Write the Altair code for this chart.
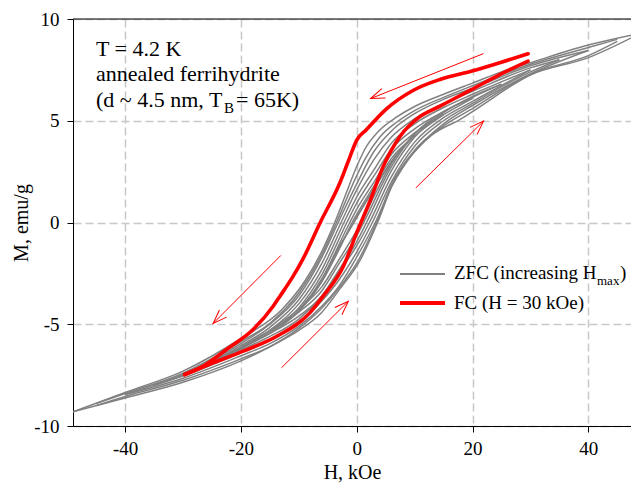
import math
import altair as alt
import pandas as pd

# ---------------- data ----------------
# ZFC loops (gray), each branch as (H [kOe], M [emu/g]) points
zfc49_down = [(49, 9.3), (40, 8.72), (30, 7.85), (25, 7.4), (20, 6.85), (15, 6.3), (10, 5.7), (7, 5.2), (4, 4.55),
              (1.4, 3.6), (0, 2.75), (-2, 1.3), (-3.8, 0), (-6, -1.4), (-9, -2.9), (-13, -4.3), (-20, -5.7),
              (-30, -7.3), (-40, -8.35), (-49, -9.3)]
zfc49_up = [(-49, -9.3), (-40, -8.62), (-30, -7.85), (-20, -6.8), (-13, -5.8), (-10, -5.3), (-6.3, -4.5), (-3, -3.3),
            (0.5, -1.9), (3.6, 0), (6.3, 1.95), (10.4, 3.6), (13, 4.3), (17.8, 5.06), (20, 5.45), (30, 7.25),
            (40, 8.1), (49, 9.3)]
zfc45_down = [(45, 9.0), (40, 8.6), (30, 7.78), (20, 6.72), (15, 6.15), (10, 5.5), (7, 4.95), (4, 4.2), (1.4, 3.1),
              (0, 2.3), (-3.5, 0), (-6, -1.55), (-10, -3.45), (-15, -4.95), (-20, -5.85), (-30, -7.4), (-40, -8.4),
              (-45, -8.9)]
zfc45_up = [(-45, -9.0), (-40, -8.55), (-30, -7.75), (-20, -6.7), (-15, -6.1), (-10, -5.2), (-6, -4.2), (-3, -3.2),
            (0, -2.0), (3.4, 0), (6, 1.85), (10, 3.55), (15, 4.75), (20, 5.6), (30, 7.3), (40, 8.2), (45, 8.9)]
zfc40_down = [(40, 8.45), (30, 7.7), (20, 6.6), (15, 6.05), (10, 5.35), (6, 4.5), (3, 3.5), (0, 1.9), (-3.2, 0),
              (-6, -1.7), (-10, -3.6), (-15, -5.0), (-20, -5.95), (-30, -7.45), (-40, -8.45)]
zfc40_up = [(-40, -8.45), (-30, -7.65), (-20, -6.55), (-15, -5.95), (-10, -5.1), (-6, -4.1), (-3, -3.1), (0, -1.7),
            (3.2, 0), (6, 1.75), (10, 3.5), (15, 4.85), (20, 5.75), (30, 7.3), (40, 8.45)]
zfc35_down = [(35, 8.0), (30, 7.6), (20, 6.45), (15, 5.85), (10, 5.1), (6, 4.2), (3, 3.1), (0, 1.6), (-2.7, 0),
              (-6, -2.0), (-10, -3.8), (-15, -5.15), (-20, -6.05), (-30, -7.5), (-35, -8.0)]
zfc35_up = [(-35, -8.0), (-30, -7.55), (-20, -6.4), (-15, -5.8), (-10, -4.95), (-6, -3.85), (-3, -2.8), (0, -1.45),
            (2.7, 0), (6, 2.0), (10, 3.75), (15, 5.0), (20, 5.85), (30, 7.4), (35, 8.0)]
zfc30_down = [(30, 7.5), (20, 6.3), (15, 5.65), (10, 4.85), (6, 3.9), (3, 2.6), (0, 1.25), (-2.2, 0), (-6, -2.3),
              (-10, -4.0), (-15, -5.3), (-20, -6.15), (-30, -7.5)]
zfc30_up = [(-30, -7.5), (-20, -6.25), (-15, -5.6), (-10, -4.75), (-6, -3.6), (-3, -2.4), (0, -1.15), (2.2, 0),
            (6, 2.25), (10, 3.95), (15, 5.15), (20, 5.95), (30, 7.5)]
zfc25_down = [(25, 6.8), (20, 6.15), (15, 5.45), (10, 4.6), (6, 3.6), (3, 2.3), (0, 0.95), (-1.7, 0), (-6, -2.55),
              (-10, -4.2), (-15, -5.4), (-20, -6.2), (-25, -6.8)]
zfc25_up = [(-25, -6.8), (-20, -6.15), (-15, -5.45), (-10, -4.6), (-6, -3.6), (-3, -2.3), (0, -0.95), (1.7, 0),
            (6, 2.55), (10, 4.2), (15, 5.4), (20, 6.2), (25, 6.8)]
zfc20_down = [(20, 6.1), (15, 5.3), (10, 4.4), (6, 3.35), (3, 2.0), (0, 0.65), (-1.2, 0), (-6, -2.75), (-10, -4.35),
              (-15, -5.45), (-20, -6.1)]
zfc20_up = [(-20, -6.1), (-15, -5.3), (-10, -4.4), (-6, -3.35), (-3, -2.0), (0, -0.65), (1.2, 0), (6, 2.75),
            (10, 4.35), (15, 5.45), (20, 6.1)]
zfc15_down = [(15, 5.3), (10, 4.25), (6, 3.15), (3, 1.8), (0, 0.4), (-0.8, 0), (-3, -1.3), (-6, -2.9), (-10, -4.35),
              (-15, -5.3)]
zfc15_up = [(-15, -5.3), (-10, -4.25), (-6, -3.15), (-3, -1.8), (0, -0.4), (0.8, 0), (3, 1.3), (6, 2.9), (10, 4.35),
            (15, 5.3)]
zfc10_down = [(10, 4.3), (6, 3.0), (3, 1.65), (0, 0.25), (-0.5, 0), (-3, -1.2), (-6, -2.85), (-10, -4.3)]
zfc10_up = [(-10, -4.3), (-6, -2.85), (-3, -1.2), (-0.5, 0), (0, 0.25), (3, 1.65), (6, 3.0), (10, 4.3)]

# FC loop (red, H = 30 kOe)
fc_down = [(29.6, 8.29), (24.7, 7.85), (19.9, 7.44), (14.4, 7.03), (9.8, 6.5), (5, 5.55), (1.7, 4.57), (0, 4.05),
           (-1.2, 3.2), (-2.9, 1.95), (-6.3, 0), (-9.3, -1.8), (-11, -2.65), (-13.2, -3.6), (-14.4, -4.1),
           (-17.9, -5.26), (-22.5, -6.24), (-26.5, -7.06), (-29.7, -7.47)]
fc_up = [(-29.7, -7.47), (-24.8, -6.9), (-19.6, -6.32), (-13.8, -5.59), (-8.1, -4.44), (-5.8, -3.62), (-2.3, -2.15),
         (0, -0.5), (2.4, 1.13), (4.6, 2.77), (7.5, 4.24), (10.9, 5.2), (14.4, 5.72), (19.9, 6.54), (24.7, 7.27),
         (29.6, 7.93)]

# arrows (start -> head)
arrow_x1 = [21.9, 10.2, -13.1, -13.0]
arrow_y1 = [8.3, 1.7, -1.62, -7.14]
arrow_x2 = [2.4, 21.9, -24.8, -1.45]
arrow_y2 = [6.09, 4.98, -4.96, -3.87]

x_ticks = [-40, -20, 0, 20, 40]
y_ticks = [-10, -5, 0, 5, 10]

# ---------------- layout ----------------
W, HT = 558, 407
PX_PER_KOE = 5.79
xdom = [-49, -49 + W / PX_PER_KOE]
ydom = [-10, 10]
FONT = "'Liberation Serif', 'Times New Roman', Times, serif"

zfc_branches = {
    "49d": zfc49_down, "49u": zfc49_up, "45d": zfc45_down, "45u": zfc45_up,
    "40d": zfc40_down, "40u": zfc40_up, "35d": zfc35_down, "35u": zfc35_up,
    "30d": zfc30_down, "30u": zfc30_up, "25d": zfc25_down, "25u": zfc25_up,
    "20d": zfc20_down, "20u": zfc20_up, "15d": zfc15_down, "15u": zfc15_up,
    "10d": zfc10_down, "10u": zfc10_up,
}
gray_rows = [{"H": h, "M": m, "key": k} for k, pts in zfc_branches.items() for h, m in pts]
gray_df = pd.DataFrame(gray_rows)
red_df = pd.DataFrame([{"H": h, "M": m, "key": "d"} for h, m in fc_down] +
                      [{"H": h, "M": m, "key": "u"} for h, m in fc_up])

pxH = W / (xdom[1] - xdom[0])
pxM = HT / (ydom[1] - ydom[0])
arr_df = pd.DataFrame({"x1": arrow_x1, "y1": arrow_y1, "x2": arrow_x2, "y2": arrow_y2})
arr_df["ang"] = [
    math.degrees(math.atan2(-(b2 - b1) * pxM, (a2 - a1) * pxH)) % 360
    for a1, b1, a2, b2 in zip(arrow_x1, arrow_y1, arrow_x2, arrow_y2)
]

xscale = alt.Scale(domain=xdom, nice=False, zero=False)
yscale = alt.Scale(domain=ydom, nice=False, zero=False)

axis_common = dict(
    grid=True, gridDash=[8, 4], gridColor="#c8c8c8", gridWidth=1.5,
    domainColor="black", tickColor="black", tickSize=6,
    labelFont=FONT, labelFontSize=19, labelColor="black",
    titleFont=FONT, titleFontSize=20, titleFontWeight="normal", titleColor="black",
    labelExpr="'' + datum.value",
)
xax = alt.Axis(values=x_ticks, title="H, kOe", labelPadding=7, titlePadding=4, **axis_common)
yax = alt.Axis(values=y_ticks, title="M, emu/g", labelPadding=8, titlePadding=2, **axis_common)

base_x = alt.X("H:Q", scale=xscale, axis=xax)
base_y = alt.Y("M:Q", scale=yscale, axis=yax)

gray = alt.Chart(gray_df).mark_line(color="#808080", strokeWidth=1.5, interpolate="monotone", clip=True).encode(
    x=base_x, y=base_y, detail="key:N")
red = alt.Chart(red_df).mark_line(color="#ff0000", strokeWidth=3.6, interpolate="monotone", strokeCap="round",
                                  clip=True).encode(
    x=alt.X("H:Q", scale=xscale), y=alt.Y("M:Q", scale=yscale), detail="key:N")

shafts = alt.Chart(arr_df).mark_rule(color="#ff0000", strokeWidth=1).encode(
    x=alt.X("x1:Q", scale=xscale), y=alt.Y("y1:Q", scale=yscale), x2="x2:Q", y2="y2:Q")
heads = alt.Chart(arr_df).mark_point(shape="M -1 -0.36 L 0 0 L -1 0.36", filled=False, color="#ff0000",
                                     strokeWidth=1, size=784, opacity=1).encode(
    x=alt.X("x2:Q", scale=xscale), y=alt.Y("y2:Q", scale=yscale), angle=alt.Angle("ang:Q", scale=None))

# annotation texts (pixel positions within plot area)
ann_df = pd.DataFrame({
    "t": ["T = 4.2 K", "annealed ferrihydrite", "(d ~ 4.5 nm, T", "= 65K)"],
    "px": [23, 23, 23, 163], "py": [37, 62, 88, 88]})
ann = alt.Chart(ann_df).mark_text(font=FONT, fontSize=22, align="left", baseline="alphabetic", color="black").encode(
    x=alt.X("px:Q", scale=None), y=alt.Y("py:Q", scale=None), text="t:N")
sub_b = alt.Chart(pd.DataFrame({"t": ["B"]})).mark_text(font=FONT, fontSize=15, align="left", baseline="alphabetic",
                                                        color="black").encode(
    x=alt.value(151), y=alt.value(94), text="t:N")

# legend
leg_gray = alt.Chart(pd.DataFrame({"a": [0]})).mark_rule(color="#808080", strokeWidth=2).encode(
    x=alt.value(327), x2=alt.value(372), y=alt.value(255))
leg_red = alt.Chart(pd.DataFrame({"a": [0]})).mark_rule(color="#ff0000", strokeWidth=4).encode(
    x=alt.value(327), x2=alt.value(372), y=alt.value(284))
leg_df = pd.DataFrame({"t": ["ZFC (increasing H", ")", "FC (H = 30 kOe)"],
                       "px": [381, 547, 381], "py": [260, 260, 290]})
leg_txt = alt.Chart(leg_df).mark_text(font=FONT, fontSize=19, align="left", baseline="alphabetic",
                                      color="black").encode(
    x=alt.X("px:Q", scale=None), y=alt.Y("py:Q", scale=None), text="t:N")
leg_sub = alt.Chart(pd.DataFrame({"t": ["max"]})).mark_text(font=FONT, fontSize=13, align="left",
                                                            baseline="alphabetic", color="black").encode(
    x=alt.value(524), y=alt.value(266), text="t:N")

top_border = alt.Chart(pd.DataFrame({"a": [0]})).mark_rule(color="black", strokeWidth=1).encode(
    x=alt.value(0), x2=alt.value(W), y=alt.value(0))

chart = alt.layer(gray, red, shafts, heads, ann, sub_b, leg_gray, leg_red, leg_txt, leg_sub, top_border).properties(
    width=W, height=HT,
    autosize=alt.AutoSizeParams(type="none"),
    padding={"left": 65, "top": 11, "right": 0, "bottom": 57},
).configure_view(stroke=None).configure(background="white")

chart.save("out.html", embed_options={"renderer": "svg", "actions": False})
